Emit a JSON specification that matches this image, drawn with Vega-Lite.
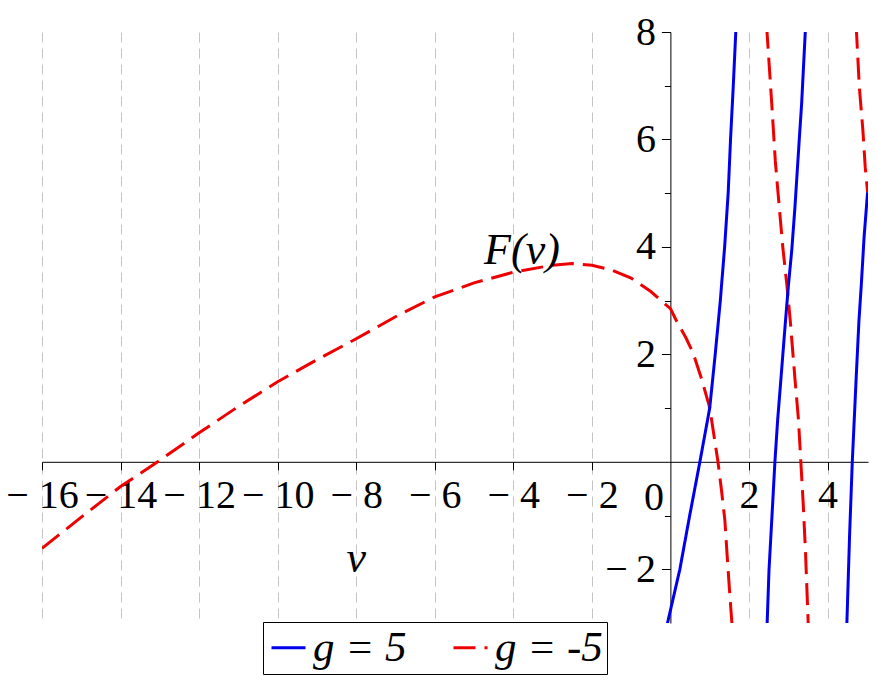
{
  "$schema": "https://vega.github.io/schema/vega-lite/v6.json",
  "width": 826,
  "height": 591,
  "autosize": "none",
  "padding": {"left": 42, "top": 32, "right": 8, "bottom": 69},
  "background": "white",
  "config": {"view": {"stroke": null}, "font": "Liberation Serif"},
  "layer": [
    {
      "data": {
        "values": [
          {"v": -16, "F": -1.61, "g": "g = -5", "b": "a"},
          {"v": -15, "F": -1.03, "g": "g = -5", "b": "a"},
          {"v": -14, "F": -0.46, "g": "g = -5", "b": "a"},
          {"v": -13, "F": 0.03, "g": "g = -5", "b": "a"},
          {"v": -12, "F": 0.54, "g": "g = -5", "b": "a"},
          {"v": -11, "F": 1.03, "g": "g = -5", "b": "a"},
          {"v": -10, "F": 1.49, "g": "g = -5", "b": "a"},
          {"v": -9, "F": 1.9, "g": "g = -5", "b": "a"},
          {"v": -8, "F": 2.29, "g": "g = -5", "b": "a"},
          {"v": -7, "F": 2.7, "g": "g = -5", "b": "a"},
          {"v": -6, "F": 3.07, "g": "g = -5", "b": "a"},
          {"v": -5, "F": 3.33, "g": "g = -5", "b": "a"},
          {"v": -4, "F": 3.53, "g": "g = -5", "b": "a"},
          {"v": -3, "F": 3.66, "g": "g = -5", "b": "a"},
          {"v": -2.5, "F": 3.69, "g": "g = -5", "b": "a"},
          {"v": -2, "F": 3.66, "g": "g = -5", "b": "a"},
          {"v": -1.5, "F": 3.57, "g": "g = -5", "b": "a"},
          {"v": -1, "F": 3.42, "g": "g = -5", "b": "a"},
          {"v": -0.5, "F": 3.17, "g": "g = -5", "b": "a"},
          {"v": 0, "F": 2.85, "g": "g = -5", "b": "a"},
          {"v": 0.15, "F": 2.63, "g": "g = -5", "b": "a"},
          {"v": 0.4, "F": 2.3, "g": "g = -5", "b": "a"},
          {"v": 0.58, "F": 2.02, "g": "g = -5", "b": "a"},
          {"v": 0.79, "F": 1.55, "g": "g = -5", "b": "a"},
          {"v": 1.0, "F": 1.01, "g": "g = -5", "b": "a"},
          {"v": 1.1, "F": 0.53, "g": "g = -5", "b": "a"},
          {"v": 1.21, "F": 0.0, "g": "g = -5", "b": "a"},
          {"v": 1.3, "F": -0.53, "g": "g = -5", "b": "a"},
          {"v": 1.385, "F": -1.08, "g": "g = -5", "b": "a"},
          {"v": 1.44, "F": -1.7, "g": "g = -5", "b": "a"},
          {"v": 1.5, "F": -2.35, "g": "g = -5", "b": "a"},
          {"v": 1.57, "F": -3.05, "g": "g = -5", "b": "a"},
          {"v": 2.45, "F": 8.1, "g": "g = -5", "b": "b"},
          {"v": 2.58, "F": 6.66, "g": "g = -5", "b": "b"},
          {"v": 2.67, "F": 5.6, "g": "g = -5", "b": "b"},
          {"v": 2.74, "F": 5.0, "g": "g = -5", "b": "b"},
          {"v": 2.86, "F": 4.0, "g": "g = -5", "b": "b"},
          {"v": 2.97, "F": 3.25, "g": "g = -5", "b": "b"},
          {"v": 3.05, "F": 2.63, "g": "g = -5", "b": "b"},
          {"v": 3.17, "F": 1.55, "g": "g = -5", "b": "b"},
          {"v": 3.26, "F": 0.78, "g": "g = -5", "b": "b"},
          {"v": 3.32, "F": 0.0, "g": "g = -5", "b": "b"},
          {"v": 3.38, "F": -0.77, "g": "g = -5", "b": "b"},
          {"v": 3.44, "F": -1.7, "g": "g = -5", "b": "b"},
          {"v": 3.51, "F": -3.05, "g": "g = -5", "b": "b"},
          {"v": 4.73, "F": 8.1, "g": "g = -5", "b": "c"},
          {"v": 4.81, "F": 6.97, "g": "g = -5", "b": "c"},
          {"v": 4.9, "F": 6.17, "g": "g = -5", "b": "c"},
          {"v": 4.96, "F": 5.48, "g": "g = -5", "b": "c"},
          {"v": 5.02, "F": 5.02, "g": "g = -5", "b": "c"},
          {"v": -0.09, "F": -3.05, "g": "g = 5", "b": "a"},
          {"v": 0.24, "F": -2.0, "g": "g = 5", "b": "a"},
          {"v": 0.49, "F": -1.0, "g": "g = 5", "b": "a"},
          {"v": 0.75, "F": 0.0, "g": "g = 5", "b": "a"},
          {"v": 1.0, "F": 1.0, "g": "g = 5", "b": "a"},
          {"v": 1.14, "F": 2.0, "g": "g = 5", "b": "a"},
          {"v": 1.27, "F": 3.0, "g": "g = 5", "b": "a"},
          {"v": 1.38, "F": 4.0, "g": "g = 5", "b": "a"},
          {"v": 1.47, "F": 5.0, "g": "g = 5", "b": "a"},
          {"v": 1.53, "F": 6.0, "g": "g = 5", "b": "a"},
          {"v": 1.6, "F": 7.0, "g": "g = 5", "b": "a"},
          {"v": 1.67, "F": 8.1, "g": "g = 5", "b": "a"},
          {"v": 2.46, "F": -3.05, "g": "g = 5", "b": "b"},
          {"v": 2.51, "F": -2.01, "g": "g = 5", "b": "b"},
          {"v": 2.58, "F": -1.08, "g": "g = 5", "b": "b"},
          {"v": 2.66, "F": 0.0, "g": "g = 5", "b": "b"},
          {"v": 2.73, "F": 0.78, "g": "g = 5", "b": "b"},
          {"v": 2.83, "F": 1.7, "g": "g = 5", "b": "b"},
          {"v": 2.93, "F": 2.63, "g": "g = 5", "b": "b"},
          {"v": 3.0, "F": 3.25, "g": "g = 5", "b": "b"},
          {"v": 3.09, "F": 3.95, "g": "g = 5", "b": "b"},
          {"v": 3.17, "F": 4.74, "g": "g = 5", "b": "b"},
          {"v": 3.28, "F": 6.0, "g": "g = 5", "b": "b"},
          {"v": 3.34, "F": 6.66, "g": "g = 5", "b": "b"},
          {"v": 3.44, "F": 8.1, "g": "g = 5", "b": "b"},
          {"v": 4.49, "F": -3.05, "g": "g = 5", "b": "c"},
          {"v": 4.56, "F": -1.39, "g": "g = 5", "b": "c"},
          {"v": 4.63, "F": 0.0, "g": "g = 5", "b": "c"},
          {"v": 4.73, "F": 1.58, "g": "g = 5", "b": "c"},
          {"v": 4.8, "F": 2.63, "g": "g = 5", "b": "c"},
          {"v": 4.86, "F": 3.3, "g": "g = 5", "b": "c"},
          {"v": 4.93, "F": 4.18, "g": "g = 5", "b": "c"},
          {"v": 5.02, "F": 5.02, "g": "g = 5", "b": "c"}
        ]
      },
      "mark": {"type": "line", "clip": true, "strokeWidth": 3, "interpolate": "linear"},
      "encoding": {
        "x": {
          "field": "v", "type": "quantitative",
          "scale": {"domain": [-16, 5.03], "nice": false, "zero": false},
          "axis": {
            "title": null,
            "orient": "bottom",
            "offset": -161.2,
            "values": [-16, -14, -12, -10, -8, -6, -4, -2, 2, 4],
            "labelExpr": "datum.value < 0 ? '− ' + format(-datum.value, 'd') : format(datum.value, 'd')",
            "labelFont": "Liberation Serif",
            "labelFontSize": 40,
            "labelColor": "black",
            "labelPadding": 6,
            "labelFlush": false,
            "labelOverlap": false,
            "tickSize": 8,
            "tickColor": "black",
            "domainColor": "black",
            "domainWidth": 1,
            "grid": true,
            "gridColor": "#c4c4c4",
            "gridDash": [10, 6],
            "gridWidth": 1
          }
        },
        "y": {
          "field": "F", "type": "quantitative",
          "scale": {"domain": [-3, 8], "nice": false, "zero": false},
          "axis": {
            "title": null,
            "orient": "left",
            "offset": -628.4,
            "values": [-2, -1, 1, 2, 3, 4, 5, 6, 7, 8],
            "labelExpr": "datum.value % 2 != 0 ? '' : (datum.value < 0 ? '−\u2009' + format(-datum.value, 'd') : format(datum.value, 'd'))",
            "labelFont": "Liberation Serif",
            "labelFontSize": 40,
            "labelColor": "black",
            "labelPadding": 6,
            "labelFlush": false,
            "labelOverlap": false,
            "tickSize": {"condition": {"test": "datum.value % 2 != 0", "value": 6}, "value": 9},
            "tickColor": "black",
            "domainColor": "black",
            "domainWidth": 1,
            "grid": false
          }
        },
        "detail": {"field": "b"},
        "color": {
          "field": "g", "type": "nominal",
          "scale": {"domain": ["g = 5", "g = -5"], "range": ["#0000ee", "#ee0000"]},
          "legend": {
            "title": null,
            "orient": "none",
            "legendX": 221,
            "legendY": 590,
            "direction": "horizontal",
            "columns": 2,
            "columnPadding": 40,
            "symbolType": "stroke",
            "symbolSize": 1156,
            "symbolStrokeWidth": 3,
            "labelFont": "Liberation Serif",
            "labelFontStyle": "italic",
            "labelFontSize": 43,
            "labelColor": "black",
            "labelOffset": 3,
            "labelLimit": 300,
            "padding": 4,
            "strokeColor": "black",
            "fillColor": "white"
          }
        },
        "strokeDash": {
          "field": "g", "type": "nominal",
          "scale": {"domain": ["g = 5", "g = -5"], "range": [[1, 0], [22, 9]]}
        }
      }
    },
    {
      "data": {"values": [{"v": -3.78, "F": 3.69, "t": "F(ν)"}, {"v": -8, "F": -2.045, "t": "ν"}]},
      "mark": {"type": "text", "font": "Liberation Serif", "fontStyle": "italic", "fontSize": 44, "align": "center", "baseline": "alphabetic", "color": "black"},
      "encoding": {
        "x": {"field": "v", "type": "quantitative"},
        "y": {"field": "F", "type": "quantitative"},
        "text": {"field": "t"}
      }
    },
    {
      "data": {"values": [{"v": -0.42, "F": -0.9, "t": "0"}]},
      "mark": {"type": "text", "font": "Liberation Serif", "fontSize": 40, "align": "center", "baseline": "alphabetic", "color": "black"},
      "encoding": {
        "x": {"field": "v", "type": "quantitative"},
        "y": {"field": "F", "type": "quantitative"},
        "text": {"field": "t"}
      }
    }
  ]
}
